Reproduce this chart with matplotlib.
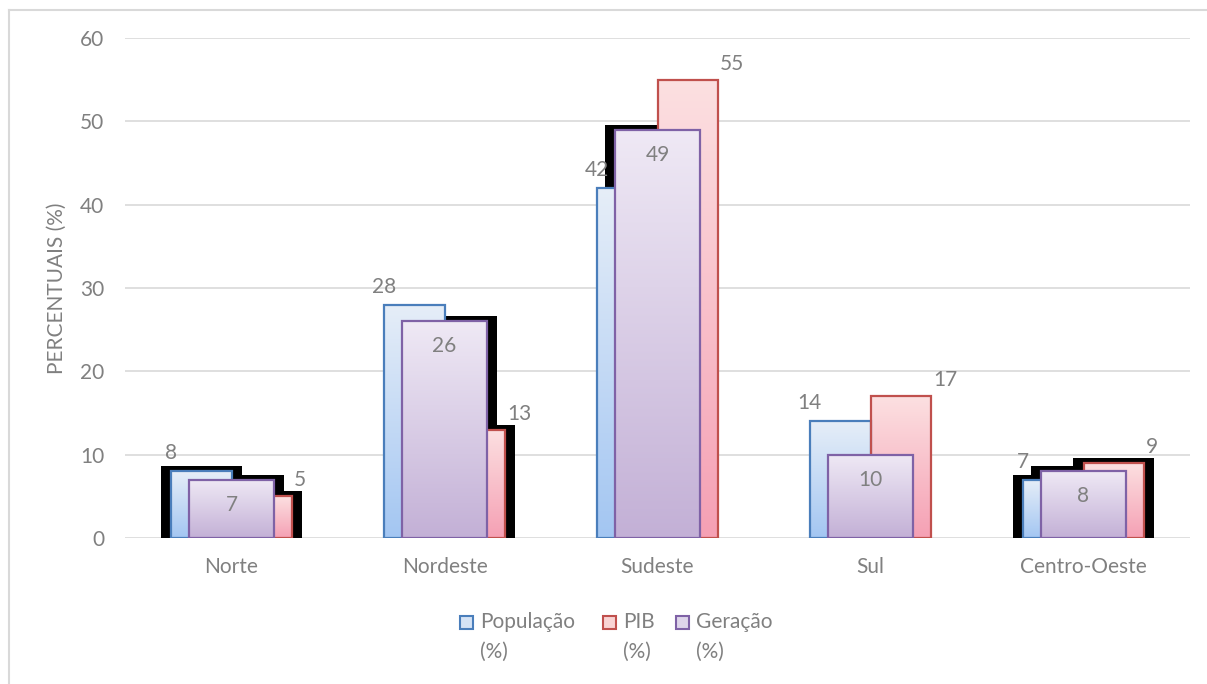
import matplotlib
matplotlib.use("Agg")
import matplotlib.pyplot as plt
import numpy as np
from matplotlib.colors import LinearSegmentedColormap
from matplotlib.patches import Rectangle
from matplotlib.lines import Line2D

plt.rcParams["font.family"] = ["Lato", "DejaVu Sans"]

regioes = ["Norte", "Nordeste", "Sudeste", "Sul", "Centro-Oeste"]
populacao = [8, 28, 42, 14, 7]
pib = [5, 13, 55, 17, 9]
geracao = [7, 26, 49, 10, 8]

# onde aparece a sombra preta do Excel (populacao, pib, geracao)
sombra = [
    (1, 1, 1),
    (0, 1, 1),
    (0, 0, 1),
    (0, 0, 0),
    (1, 1, 1),
]

W, H = 1207, 684
FS = 15
fig = plt.figure(figsize=(W / 100, H / 100), dpi=100)
ax = fig.add_axes([125 / W, 1 - 538 / H, 1065 / W, 500 / H])

cor_texto = "#808080"
cor_grade = "#D9D9D9"

estilos = {
    "pop": dict(top="#E6EEF8", bottom="#A3C6F2", edge="#4A7EBB"),
    "pib": dict(top="#FCE0E1", bottom="#F5A0B4", edge="#C0504D"),
    "ger": dict(top="#EFE9F5", bottom="#C3B0D6", edge="#7F62A6"),
}


def barra(x0, largura, altura, estilo, z):
    s = estilos[estilo]
    cmap = LinearSegmentedColormap.from_list(estilo, [s["bottom"], s["top"]])
    grad = np.linspace(0, 1, 256).reshape(-1, 1)
    im = ax.imshow(grad, cmap=cmap, origin="lower", aspect="auto",
                   extent=[x0, x0 + largura, 0, altura], zorder=z)
    ret = Rectangle((x0, 0), largura, altura, facecolor="none",
                    edgecolor=s["edge"], linewidth=1.6, zorder=z + 0.1)
    ax.add_patch(ret)
    im.set_clip_path(ret)


def sombra_barra(x0, largura, altura):
    px, py = 0.047, 0.6
    ax.add_patch(Rectangle((x0 - px, 0), largura + 2 * px, altura + py,
                           facecolor="black", edgecolor="none", zorder=1))


larg = 0.286
larg_ger = 0.40
xs = np.arange(len(regioes))

for i, x in enumerate(xs):
    sp, sb, sg = sombra[i]
    if sp:
        sombra_barra(x - larg, larg, populacao[i])
    if sb:
        sombra_barra(x, larg, pib[i])
    if sg:
        sombra_barra(x - larg_ger / 2, larg_ger, geracao[i])
    barra(x - larg, larg, populacao[i], "pop", 2)
    barra(x, larg, pib[i], "pib", 2)
    barra(x - larg_ger / 2, larg_ger, geracao[i], "ger", 3)

    ax.annotate(str(populacao[i]), (x - larg, populacao[i]), xytext=(0, 13),
                textcoords="offset points", ha="center", va="center",
                fontsize=FS, color=cor_texto, zorder=5)
    ax.annotate(str(pib[i]), (x + larg, pib[i]), xytext=(1, 11.5),
                textcoords="offset points", ha="left", va="center",
                fontsize=FS, color=cor_texto, zorder=5)
    ax.annotate(str(geracao[i]), (x, geracao[i]), xytext=(0, -18),
                textcoords="offset points", ha="center", va="center",
                fontsize=FS, color=cor_texto, zorder=5)

ax.set_xlim(-0.5, len(regioes) - 0.5)
ax.set_ylim(0, 60)
ax.set_yticks(range(0, 61, 10))
ax.set_xticks(xs)
ax.set_xticklabels(regioes)
ax.grid(axis="y", color=cor_grade, linewidth=1.2, zorder=0)
ax.set_axisbelow(True)
for lado in ax.spines.values():
    lado.set_visible(False)
ax.tick_params(axis="both", length=0, labelsize=FS, labelcolor=cor_texto)
ax.tick_params(axis="x", pad=14)
ax.tick_params(axis="y", pad=15)

fig.text(57 / W, 1 - 288 / H, "PERCENTUAIS (%)", rotation=90, ha="center",
         va="center", fontsize=FS, color=cor_texto)

# borda da area do grafico
fig.add_artist(Line2D([9 / W, 9 / W], [0, 1 - 10 / H], color=cor_grade,
                      linewidth=1.5, transform=fig.transFigure))
fig.add_artist(Line2D([9 / W, 1], [1 - 10 / H, 1 - 10 / H], color=cor_grade,
                      linewidth=1.5, transform=fig.transFigure))

# legenda montada a mao (texto em duas linhas como no Excel)
legenda = [
    ("População", "#D5E3F5", "#4A7EBB", 460),
    ("PIB", "#F9D3D3", "#C0504D", 603),
    ("Geração", "#DED5EA", "#7F62A6", 676),
]
for nome, fundo, borda, px in legenda:
    fig.add_artist(Rectangle((px / W, 1 - 629 / H), 13 / W, 13 / H,
                             facecolor=fundo, edgecolor=borda, linewidth=1.5,
                             transform=fig.transFigure))
    fig.text((px + 20) / W, 1 - 622 / H, nome, ha="left", va="center",
             fontsize=FS, color=cor_texto)
    fig.text((px + 20) / W, 1 - 652 / H, "(%)", ha="left", va="center",
             fontsize=FS, color=cor_texto)

fig.savefig("out.png", dpi=100)
